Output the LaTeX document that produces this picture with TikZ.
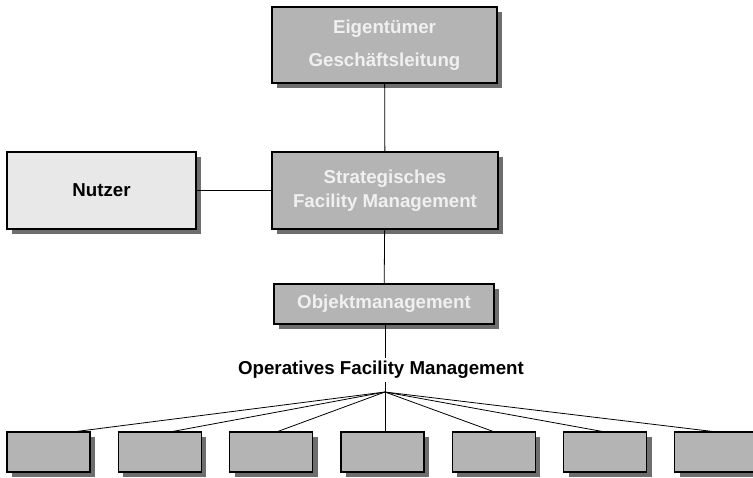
\documentclass[tikz,border=0pt]{standalone}
\usepackage{fontspec}
\setmainfont{Liberation Sans}
\usetikzlibrary{shadows,calc}
\definecolor{boxgray}{HTML}{B4B4B4}
\definecolor{userfill}{HTML}{E8E8E8}
\definecolor{shadowgray}{HTML}{6E6E6E}
\definecolor{boxtext}{HTML}{F0F0F0}
\begin{document}
\begin{tikzpicture}[x=1pt,y=-1pt,
    orgbox/.style={draw=black,line width=1.2pt,fill=boxgray,text=boxtext,
      inner sep=0pt,align=center,font=\fontsize{18.7}{24}\selectfont\bfseries,
      drop shadow={shadow xshift=5pt,shadow yshift=-5pt,fill=shadowgray,opacity=1}},
    userbox/.style={orgbox,fill=userfill,text=black},
    link/.style={draw=black,line width=0.8pt}]
  \clip (0,0) rectangle (753,477);
  \node[orgbox,minimum width=225,minimum height=76] (owner) at (384.5,45)
    {Eigentümer\\[9pt]Geschäftsleitung};
  \node[orgbox,minimum width=226,minimum height=77] (sfm) at (385,190.5)
    {Strategisches\\Facility Management};
  \node[userbox,minimum width=189,minimum height=77] (user) at (101.5,190.5) {Nutzer};
  \node[orgbox,minimum width=220,minimum height=40] (obj) at (384,304) {Objektmanagement};
  \node[font=\fontsize{18.7}{24}\selectfont\bfseries] (ofm) at (381,370)
    {Operatives Facility Management};
  \coordinate (hub) at (385,392);
  \draw[link] (owner) -- (sfm);
  \draw[link] (user) -- (sfm);
  \draw[link] (sfm) -- (obj);
  \draw[link] (obj.south -| hub) -- (ofm.north -| hub);
  \draw[link] (ofm.south -| hub) -- (hub);
  \foreach \i/\cx/\dx in {1/48.5/28.5, 2/159.8/13.2, 3/271.1/6.9, 4/382.4/2.6,
                          5/493.7/-0.7, 6/605/-3, 7/716.3/-4.3} {
    \node[orgbox,minimum width=83,minimum height=40] (unit\i) at (\cx,452) {};
    \draw[link] (hub) -- ($(unit\i.north)+(\dx,0)$);
  }
\end{tikzpicture}
\end{document}
